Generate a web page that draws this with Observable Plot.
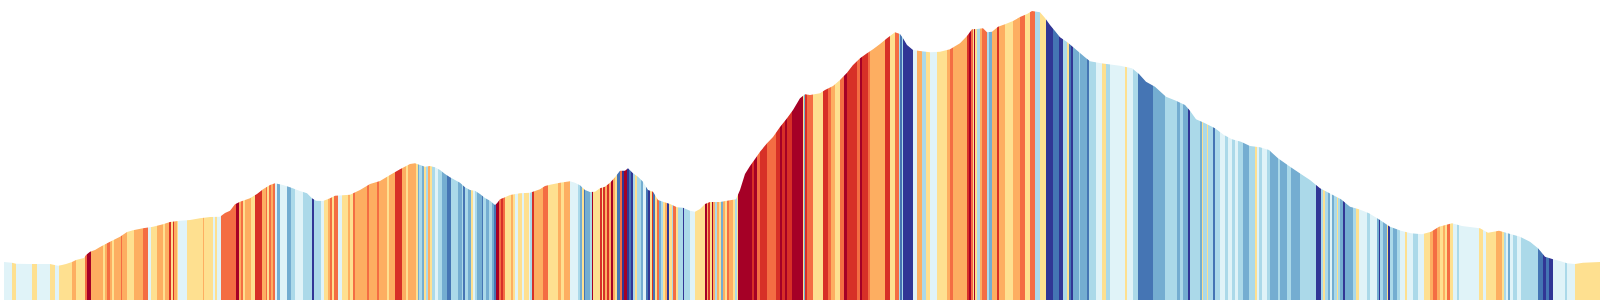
<!DOCTYPE html>
<html><head><meta charset="utf-8">
<script src="https://cdn.jsdelivr.net/npm/d3@7"></script>
<script src="https://cdn.jsdelivr.net/npm/@observablehq/plot@0.6"></script>
<style>html,body{margin:0;padding:0;background:#fff;} #chart svg{display:block;background:#fff}</style>
</head><body><div id="chart"></div>
<script>
// Elevation profile: distance (km) and elevation (m)
const profileKm = [0,0.08,0.12,0.26,0.46,0.54,0.58,0.62,0.68,0.72,0.76,0.80,0.82,0.86,0.91,0.96,1.06,1.16,1.23,1.29,1.39,1.49,1.59,1.66,1.76,1.86,1.96,2.06,2.16,2.21,2.26,2.31,2.36,2.46,2.53,2.59,2.66,2.71,2.79,2.86,2.96,3.03,3.08,3.12,3.19,3.26,3.31,3.46,3.56,3.66,3.76,3.86,3.96,4.06,4.11,4.16,4.21,4.26,4.31,4.36,4.41,4.46,4.51,4.56,4.61,4.66,4.71,4.76,4.81,4.86,4.91,4.93,4.96,5.01,5.06,5.16,5.26,5.36,5.41,5.46,5.56,5.66,5.71,5.76,5.81,5.86,5.91,5.96,6.01,6.06,6.11,6.16,6.21,6.24,6.29,6.34,6.39,6.44,6.49,6.54,6.59,6.66,6.73,6.79,6.86,6.91,6.96,7.01,7.06,7.16,7.26,7.32,7.36,7.41,7.46,7.51,7.56,7.63,7.69,7.76,7.83,7.89,7.96,8.01,8.06,8.16,8.21,8.29,8.36,8.43,8.49,8.56,8.63,8.69,8.76,8.83,8.91,8.96,8.99,9.03,9.09,9.16,9.26,9.36,9.46,9.56,9.63,9.68,9.73,9.79,9.83,9.88,9.94,10.01,10.09,10.16,10.23,10.28,10.36,10.41,10.46,10.51,10.56,10.63,10.69,10.76,10.81,10.86,10.97,11.16,11.28,11.35,11.42,11.51,11.62,11.72,11.81,11.86,11.92,12.00,12.11,12.20,12.28,12.37,12.46,12.56,12.65,12.74,12.85,12.95,13.06,13.16,13.27,13.37,13.46,13.55,13.65,13.76,13.86,13.97,14.07,14.18,14.27,14.35,14.48,14.58,14.76,14.84,14.95,15.02,15.16,15.26,15.34,15.41,15.49,15.56,15.63,15.71,15.79,15.96];
const profileElev = [114,112,109,108,108,103,105,108,114,120,123,126,135,145,150,159,175,190,204,209,215,220,227,234,238,240,245,249,250,261,268,287,295,305,318,332,345,350,345,338,327,320,305,298,297,305,313,316,330,348,357,375,392,408,410,405,400,402,398,390,378,368,360,352,338,330,328,318,306,298,285,290,302,308,315,320,322,332,342,346,352,356,352,344,330,324,325,335,340,352,368,388,388,395,380,370,355,330,325,300,295,288,278,277,268,265,273,288,294,294,299,302,330,378,402,423,445,470,489,519,545,570,605,617,615,620,630,642,660,682,705,725,740,752,768,785,803,798,785,765,750,747,743,745,752,770,792,812,813,815,803,805,820,827,837,849,858,867,863,846,825,807,788,774,759,741,728,716,710,703,695,678,655,640,610,598,585,568,542,532,515,495,482,475,462,458,450,425,402,382,360,335,318,302,280,272,260,240,220,208,200,197,205,220,230,222,215,202,208,202,190,175,155,130,122,117,110,108,112,114];

// Gradient segments: end distance (km) and gradient class (0 = steepest climb … 9 = steepest descent)
const stripeEnd = [
0.08,0.12,0.28,0.33,0.46,0.51,0.55,0.68,0.72,0.81,
0.833,0.87,0.99,1.01,1.027,1.06,1.08,1.10,1.167,1.18,
1.227,1.30,1.393,1.437,1.47,1.533,1.587,1.607,1.653,1.667,
1.69,1.703,1.727,1.737,1.833,1.987,2.00,2.087,2.107,2.127,
2.167,2.317,2.353,2.367,2.393,2.407,2.467,2.513,2.58,2.617,
2.63,2.65,2.667,2.687,2.707,2.727,2.76,2.833,2.867,2.907,
2.987,3.077,3.10,3.17,3.20,3.243,3.26,3.28,3.30,3.34,
3.377,3.443,3.46,3.487,3.507,3.627,3.647,3.727,3.747,3.827,
3.853,3.91,3.98,
4.02,4.04,4.12,4.14,4.153,4.18,4.20,4.22,4.24,4.26,
4.28,4.31,4.343,4.377,4.427,4.47,4.543,4.577,4.593,4.613,
4.637,4.67,4.687,4.713,4.733,4.777,4.793,4.82,4.847,4.88,
4.90,4.92,4.947,4.967,4.987,5.013,5.073,5.093,5.113,5.143,
5.18,5.20,5.247,5.26,5.28,5.303,5.387,5.44,5.543,5.567,
5.60,5.66,5.743,5.76,5.78,5.80,5.81,5.86,5.88,5.893,
5.96,5.977,5.993,6.01,6.027,6.05,6.067,6.093,6.113,6.133,
6.16,6.18,6.20,6.227,6.247,6.267,6.287,6.313,6.333,6.367,
6.393,6.42,6.44,6.46,6.477,6.493,6.513,6.527,6.55,6.573,
6.593,6.613,6.633,6.653,6.677,6.693,6.717,6.743,6.793,6.803,
6.86,6.91,7.01,7.027,7.043,7.06,7.077,7.093,7.113,7.127,
7.147,7.167,7.187,7.21,7.227,7.247,7.287,7.307,7.327,7.337,
7.477,7.50,7.527,7.56,7.627,7.72,7.76,7.78,7.807,7.827,
7.877,7.987,
8.00,8.013,8.033,8.087,8.193,8.24,8.267,8.307,8.36,8.40,
8.427,8.527,8.56,8.577,8.643,8.66,8.81,8.86,8.91,8.947,
8.96,8.977,8.993,9.093,9.127,9.177,9.22,9.26,9.327,9.427,
9.46,9.493,9.627,9.647,9.667,9.687,9.70,9.713,9.733,9.76,
9.777,9.827,9.853,9.877,9.927,9.953,10.01,10.093,10.16,10.21,
10.26,10.313,10.36,10.42,10.493,10.547,10.587,10.627,10.647,10.667,
10.687,10.747,10.76,10.833,10.853,10.92,10.977,11.017,11.06,11.21,
11.227,11.293,11.343,11.493,11.61,11.727,11.76,11.793,11.843,11.86,
11.96,
11.977,11.987,12.027,12.043,12.087,12.11,12.16,12.21,12.243,12.277,
12.31,12.343,12.393,12.453,12.51,12.533,12.553,12.577,12.627,12.66,
12.743,12.76,12.827,12.867,12.96,13.12,13.167,13.193,13.21,13.237,
13.26,13.277,13.30,13.327,13.343,13.36,13.393,13.41,13.493,13.52,
13.553,13.627,13.66,13.727,13.747,13.76,13.787,13.827,13.843,13.86,
13.893,13.927,13.96,14.01,14.033,14.093,14.143,14.20,14.26,14.293,
14.327,14.36,14.387,14.41,14.433,14.46,14.487,14.527,14.547,14.753,
14.793,14.82,14.92,
14.977,15.00,15.02,15.043,15.06,15.093,15.127,
15.167,15.343,15.387,15.42,15.453,15.487,15.61,15.627,15.71,15.96
];
const stripeGrade = [
5,4,5,4,5,4,5,4,3,4,
2,0,3,4,3,2,3,4,3,2,
3,4,3,2,5,4,3,4,3,1,
4,1,3,4,5,4,3,4,5,4,
5,2,0,3,2,4,3,4,1,3,
2,4,2,3,2,5,7,5,7,6,
5,6,9,6,5,4,3,2,4,2,
5,4,3,4,2,3,2,3,2,3,
4,3,1,
3,4,3,4,7,6,7,4,6,3,
4,6,5,6,7,8,6,7,6,8,
6,7,4,5,6,7,8,6,7,6,
7,8,0,2,1,2,4,3,4,5,
4,5,4,5,6,1,3,2,4,3,
4,3,5,6,7,4,8,7,6,0,
4,1,4,1,3,1,3,0,3,4,
8,2,9,0,9,8,9,6,4,6,
7,5,8,9,4,1,8,4,2,7,
6,4,3,9,4,6,2,4,6,9,
6,5,4,0,3,1,4,0,3,6,
3,4,7,3,4,2,3,4,6,4,
0,1,0,2,1,2,1,0,1,0,
1,0,
4,7,1,2,4,1,2,3,4,2,
0,1,2,0,1,2,3,1,4,2,
6,8,6,9,5,3,6,4,5,4,
3,2,3,1,0,2,4,0,4,6,
3,2,6,7,3,1,3,4,3,2,
4,2,6,4,9,8,9,6,4,8,
9,7,6,7,8,6,5,4,6,5,
4,5,6,8,7,6,7,6,7,9,
6,
7,4,6,4,6,8,6,5,6,5,
6,5,6,7,6,4,5,6,5,6,
7,6,7,6,7,6,9,6,4,6,
7,5,7,6,4,6,7,9,7,6,
4,5,6,5,7,9,6,7,4,9,
6,7,6,5,4,5,6,5,4,3,
2,3,4,3,4,2,4,5,6,5,
4,5,4,
3,4,6,5,7,5,6,
5,6,8,9,8,9,5,6,5,4
];
const gradeColors = ["#a50026","#d73027","#f46d43","#fdae61","#fee090","#e0f3f8","#abd9e9","#74add1","#4575b4","#313695"];
const elevMax = 900;
const distMax = 15.96;

const profile = profileKm.map((km, i) => ({km, elev: profileElev[i]}));
const stripes = stripeEnd.map((end, i) => ({start: i === 0 ? 0 : stripeEnd[i - 1], end, grade: stripeGrade[i]}));

const chart = Plot.plot({
  width: 1600, height: 300,
  marginLeft: 4, marginRight: 0, marginTop: 0, marginBottom: 0,
  style: {background: "#fff"},
  x: {domain: [0, distMax], axis: null},
  y: {domain: [0, elevMax], axis: null},
  color: {type: "ordinal", domain: d3.range(10), range: gradeColors},
  marks: [
    Plot.rect(stripes, {x1: "start", x2: "end", y1: 0, y2: elevMax, fill: "grade", insetRight: -1, shapeRendering: "crispEdges"}),
    Plot.areaY(profile, {x: "km", y1: "elev", y2: elevMax, fill: "#fff"})
  ]
});
document.getElementById("chart").appendChild(chart);
</script>
</body></html>
